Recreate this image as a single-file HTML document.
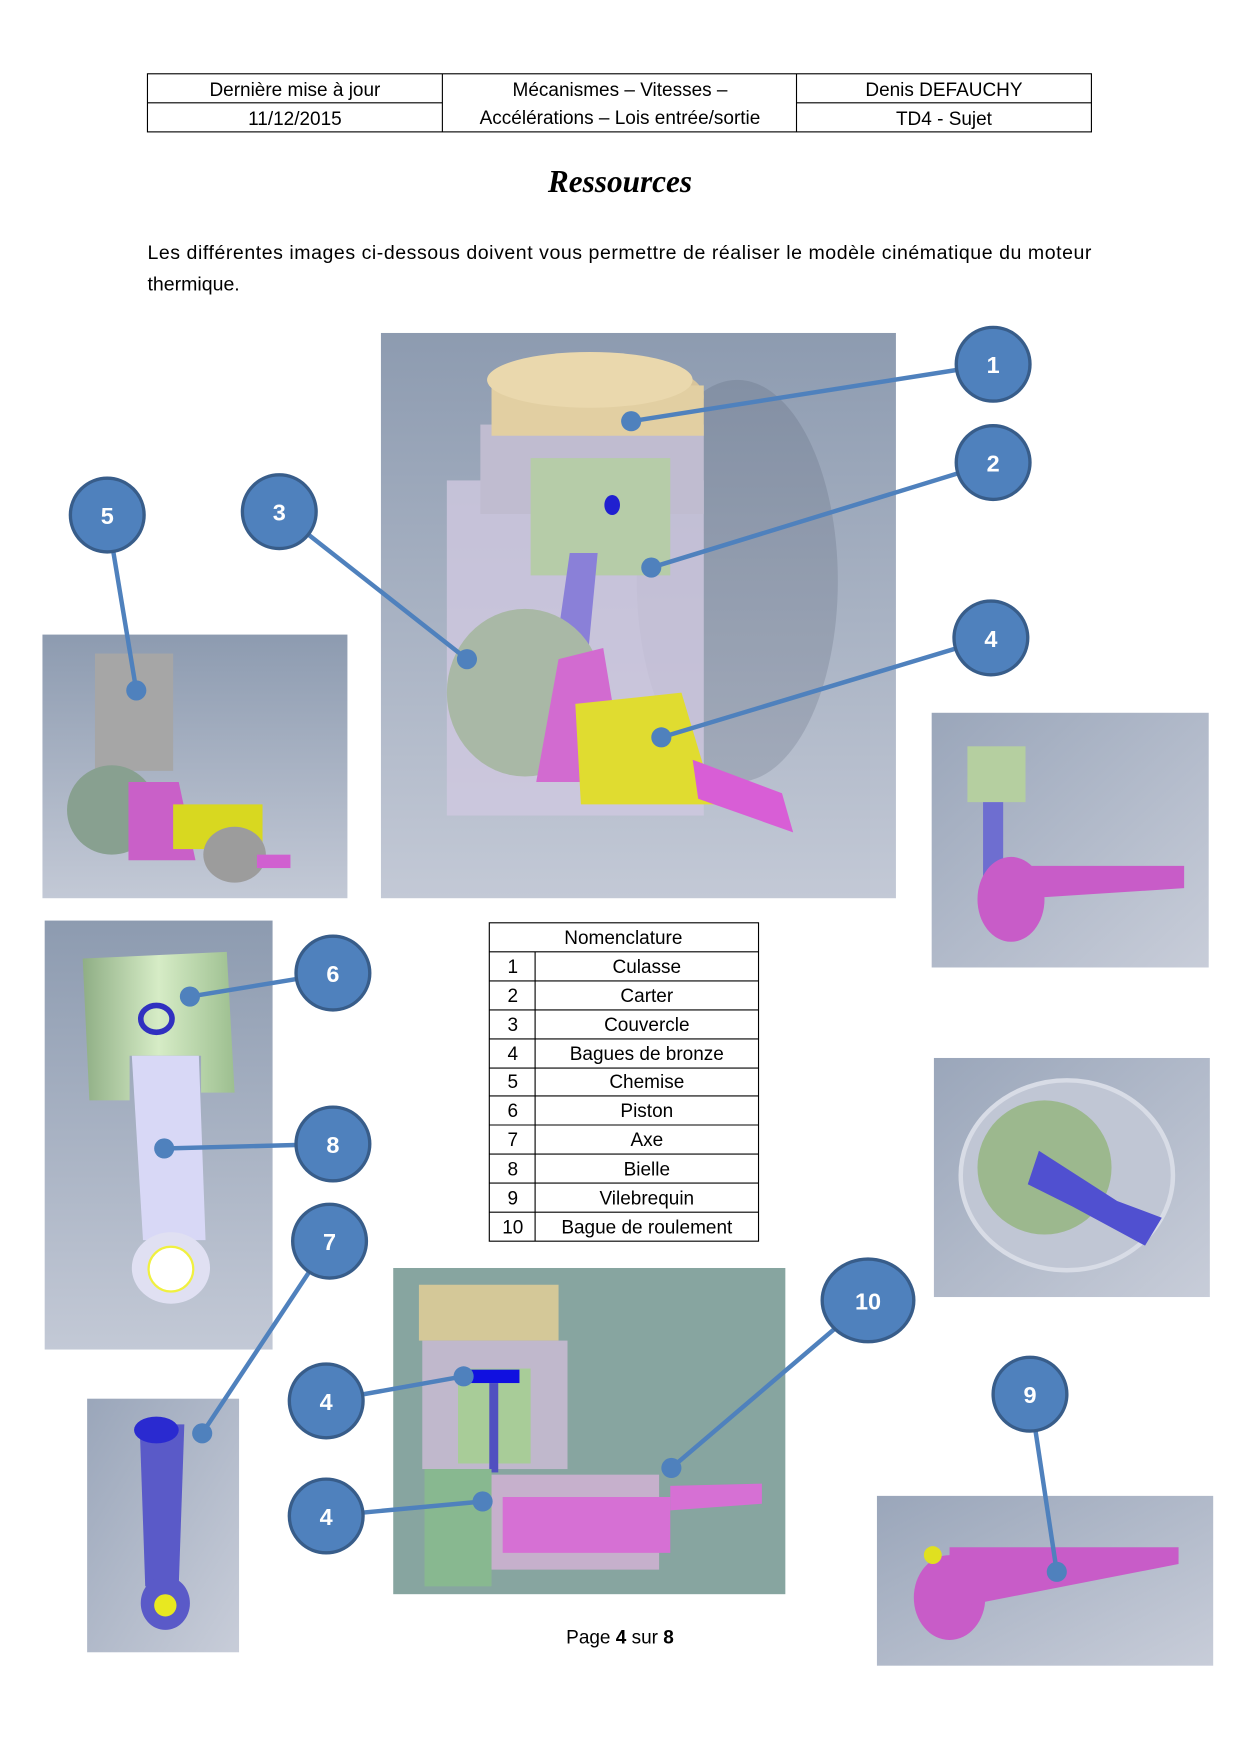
<!DOCTYPE html>
<html><head><meta charset="utf-8"><style>
html,body{margin:0;padding:0;background:#fff}
svg{display:block}
</style></head><body>
<svg width="1240" height="1754" viewBox="0 0 1110 1570" xmlns="http://www.w3.org/2000/svg" font-family="Liberation Sans, sans-serif">
<defs>
<linearGradient id="bg" x1="0" y1="0" x2="0" y2="1"><stop offset="0" stop-color="#8d9bb0"/><stop offset="1" stop-color="#c3c9d6"/></linearGradient>
<linearGradient id="bg2" x1="0" y1="0" x2="1" y2="1"><stop offset="0" stop-color="#9aa6ba"/><stop offset="1" stop-color="#c8cdd9"/></linearGradient>
<linearGradient id="grn" x1="0" y1="0" x2="1" y2="0"><stop offset="0" stop-color="#8fae85"/><stop offset="0.5" stop-color="#d6ecc6"/><stop offset="1" stop-color="#9dbf90"/></linearGradient>
</defs>
<g fill="none" stroke="#000" stroke-width="1">
<rect x="132" y="66" width="845" height="52"/>
<line x1="396" y1="66" x2="396" y2="118"/><line x1="713" y1="66" x2="713" y2="118"/>
<line x1="132" y1="92" x2="396" y2="92"/><line x1="713" y1="92" x2="977" y2="92"/>
</g>
<g font-size="17" text-anchor="middle" fill="#000">
<text x="264" y="86">Dernière mise à jour</text><text x="264" y="112">11/12/2015</text>
<text x="555" y="86">Mécanismes – Vitesses –</text><text x="555" y="111">Accélérations – Lois entrée/sortie</text>
<text x="845" y="86">Denis DEFAUCHY</text><text x="845" y="112">TD4 - Sujet</text>
</g>
<text x="555" y="172" text-anchor="middle" font-family="Liberation Serif, serif" font-weight="bold" font-style="italic" font-size="28">Ressources</text>
<text x="132" y="232" font-size="17.5" textLength="845" lengthAdjust="spacing">Les différentes images ci-dessous doivent vous permettre de réaliser le modèle cinématique du moteur</text>
<text x="132" y="260" font-size="17.5">thermique.</text>

<rect x="341" y="298" width="461" height="506" fill="url(#bg)"/>
<ellipse cx="660" cy="520" rx="90" ry="180" fill="#4a5468" opacity="0.2"/>
<rect x="400" y="430" width="230" height="300" fill="#cfc8e0" opacity="0.8"/>
<rect x="430" y="380" width="200" height="80" fill="#c0bcd0"/>
<rect x="475" y="410" width="125" height="105" fill="#b6cca8"/>
<ellipse cx="535" cy="355" rx="95" ry="35" fill="#d8c49a"/>
<rect x="440" y="345" width="190" height="45" fill="#e2cfa2"/>
<ellipse cx="528" cy="340" rx="92" ry="25" fill="#ead8ad"/>
<ellipse cx="548" cy="452" rx="7" ry="9" fill="#2020d0"/>
<polygon points="510,495 535,495 525,600 495,600" fill="#8a80d8"/>
<ellipse cx="470" cy="620" rx="70" ry="75" fill="#a9b8a6"/>
<polygon points="500,590 540,580 560,700 480,700" fill="#d26bd0"/>
<polygon points="515,630 610,620 640,720 520,720" fill="#e0dc30"/>
<polygon points="620,680 700,710 710,745 625,715" fill="#d85ed6"/>
<rect x="38" y="568" width="273" height="236" fill="url(#bg)"/>
<rect x="85" y="585" width="70" height="105" fill="#a6a6a6"/>
<ellipse cx="100" cy="725" rx="40" ry="40" fill="#88a090"/>
<polygon points="115,700 160,700 175,770 115,770" fill="#c960c8"/>
<rect x="155" y="720" width="80" height="40" fill="#d8d820"/>
<ellipse cx="210" cy="765" rx="28" ry="25" fill="#9c9c9c"/>
<rect x="230" y="765" width="30" height="12" fill="#d060d0"/>
<rect x="834" y="638" width="248" height="228" fill="url(#bg2)"/>
<rect x="866" y="668" width="52" height="50" fill="#b5cfa0"/>
<rect x="880" y="718" width="18" height="70" fill="#6e6ed0"/>
<ellipse cx="905" cy="805" rx="30" ry="38" fill="#c85cc8"/>
<polygon points="905,775 1060,775 1060,795 905,805" fill="#c85cc8"/>
<rect x="40" y="824" width="204" height="384" fill="url(#bg)"/>
<polygon points="74,858 203,852 210,978 180,978 180,945 116,945 116,985 80,985" fill="url(#grn)"/>
<ellipse cx="140" cy="912" rx="14" ry="12" fill="none" stroke="#3030c0" stroke-width="5"/>
<polygon points="118,945 178,945 184,1110 128,1110" fill="#d8d8f6"/>
<ellipse cx="153" cy="1135" rx="35" ry="32" fill="#e0e0f2"/>
<circle cx="153" cy="1136" r="20" fill="#fff" stroke="#f0f040" stroke-width="2"/>
<g font-size="17" text-anchor="middle" fill="#000">
<rect x="438" y="826" width="241" height="285" fill="none" stroke="#000"/>
<line x1="479" y1="852" x2="479" y2="1111" stroke="#000"/>
<g stroke="#000"><line x1="438" y1="852" x2="679" y2="852"/><line x1="438" y1="878" x2="679" y2="878"/><line x1="438" y1="904" x2="679" y2="904"/><line x1="438" y1="930" x2="679" y2="930"/><line x1="438" y1="956" x2="679" y2="956"/><line x1="438" y1="981" x2="679" y2="981"/><line x1="438" y1="1007" x2="679" y2="1007"/><line x1="438" y1="1033" x2="679" y2="1033"/><line x1="438" y1="1059" x2="679" y2="1059"/><line x1="438" y1="1085" x2="679" y2="1085"/></g>
<text x="558" y="845">Nomenclature</text>
<text x="459" y="871">1</text><text x="579" y="871">Culasse</text>
<text x="459" y="897">2</text><text x="579" y="897">Carter</text>
<text x="459" y="923">3</text><text x="579" y="923">Couvercle</text>
<text x="459" y="949">4</text><text x="579" y="949">Bagues de bronze</text>
<text x="459" y="974">5</text><text x="579" y="974">Chemise</text>
<text x="459" y="1000">6</text><text x="579" y="1000">Piston</text>
<text x="459" y="1026">7</text><text x="579" y="1026">Axe</text>
<text x="459" y="1052">8</text><text x="579" y="1052">Bielle</text>
<text x="459" y="1078">9</text><text x="579" y="1078">Vilebrequin</text>
<text x="459" y="1104">10</text><text x="579" y="1104">Bague de roulement</text>
</g>
<rect x="836" y="947" width="247" height="214" fill="url(#bg2)"/>
<ellipse cx="955" cy="1052" rx="95" ry="85" fill="#c0c6d4" stroke="#d8dce6" stroke-width="4"/>
<ellipse cx="935" cy="1045" rx="60" ry="60" fill="#9cb88e"/>
<polygon points="930,1030 1000,1075 1040,1090 1025,1115 960,1080 920,1060" fill="#5050d0"/>
<rect x="78" y="1252" width="136" height="227" fill="url(#bg2)"/>
<polygon points="125,1275 165,1275 160,1420 130,1420" fill="#5a5ac8"/>
<ellipse cx="148" cy="1435" rx="22" ry="24" fill="#5a5ac8"/>
<circle cx="148" cy="1437" r="10" fill="#e8e820"/>
<ellipse cx="140" cy="1280" rx="20" ry="12" fill="#2a2ad0"/>
<rect x="352" y="1135" width="351" height="292" fill="#87a5a0"/>
<rect x="375" y="1150" width="125" height="50" fill="#d4c898"/>
<rect x="378" y="1200" width="130" height="115" fill="#c0b8cc"/>
<rect x="410" y="1225" width="65" height="85" fill="#a8cc98"/>
<rect x="415" y="1226" width="50" height="12" fill="#1010e0"/>
<rect x="438" y="1238" width="8" height="80" fill="#5050c0"/>
<rect x="380" y="1315" width="60" height="105" fill="#88b890"/>
<rect x="440" y="1320" width="150" height="85" fill="#c6b0cc"/>
<rect x="450" y="1340" width="150" height="50" fill="#d670d4"/>
<polygon points="600,1330 682,1328 682,1346 600,1352" fill="#d670d4"/>
<rect x="785" y="1339" width="301" height="152" fill="url(#bg2)"/>
<ellipse cx="850" cy="1430" rx="32" ry="38" fill="#c85cc8"/>
<polygon points="850,1385 1055,1385 1055,1400 850,1440" fill="#c85cc8"/>
<circle cx="835" cy="1392" r="8" fill="#e0e020"/>
<text x="555" y="1471" text-anchor="middle" font-size="17">Page <tspan font-weight="bold">4</tspan> sur <tspan font-weight="bold">8</tspan></text>
<g stroke="#4f81bd" stroke-width="4" fill="none">
<line x1="889" y1="326" x2="565" y2="377"/><line x1="889" y1="414" x2="583" y2="508"/>
<line x1="250" y1="458" x2="418" y2="590"/><line x1="887" y1="571" x2="592" y2="660"/>
<line x1="96" y1="461" x2="122" y2="618"/><line x1="298" y1="871" x2="170" y2="892"/>
<line x1="298" y1="1024" x2="147" y2="1028"/><line x1="295" y1="1111" x2="181" y2="1283"/>
<line x1="292" y1="1254" x2="415" y2="1232"/><line x1="292" y1="1357" x2="432" y2="1344"/>
<line x1="777" y1="1164" x2="601" y2="1314"/><line x1="922" y1="1248" x2="946" y2="1407"/>
</g>
<g fill="#4f81bd">
<circle cx="565" cy="377" r="9"/><circle cx="583" cy="508" r="9"/><circle cx="418" cy="590" r="9"/><circle cx="592" cy="660" r="9"/><circle cx="122" cy="618" r="9"/><circle cx="170" cy="892" r="9"/><circle cx="147" cy="1028" r="9"/><circle cx="181" cy="1283" r="9"/><circle cx="415" cy="1232" r="9"/><circle cx="432" cy="1344" r="9"/><circle cx="601" cy="1314" r="9"/><circle cx="946" cy="1407" r="9"/>
</g>
<g fill="#4f81bd" stroke="#385d8a" stroke-width="3">
<circle cx="889" cy="326" r="33"/><circle cx="889" cy="414" r="33"/><circle cx="250" cy="458" r="33"/><circle cx="887" cy="571" r="33"/><circle cx="96" cy="461" r="33"/><circle cx="298" cy="871" r="33"/><circle cx="298" cy="1024" r="33"/><circle cx="295" cy="1111" r="33"/><circle cx="292" cy="1254" r="33"/><circle cx="292" cy="1357" r="33"/><ellipse cx="777" cy="1164" rx="41" ry="37"/><circle cx="922" cy="1248" r="33"/>
</g>
<g fill="#fff" font-weight="bold" font-size="21" text-anchor="middle">
<text x="889" y="334">1</text><text x="889" y="422">2</text><text x="250" y="466">3</text><text x="887" y="579">4</text><text x="96" y="469">5</text><text x="298" y="879">6</text><text x="298" y="1032">8</text><text x="295" y="1119">7</text><text x="292" y="1262">4</text><text x="292" y="1365">4</text><text x="777" y="1172">10</text><text x="922" y="1256">9</text>
</g>
</svg>
</body></html>
